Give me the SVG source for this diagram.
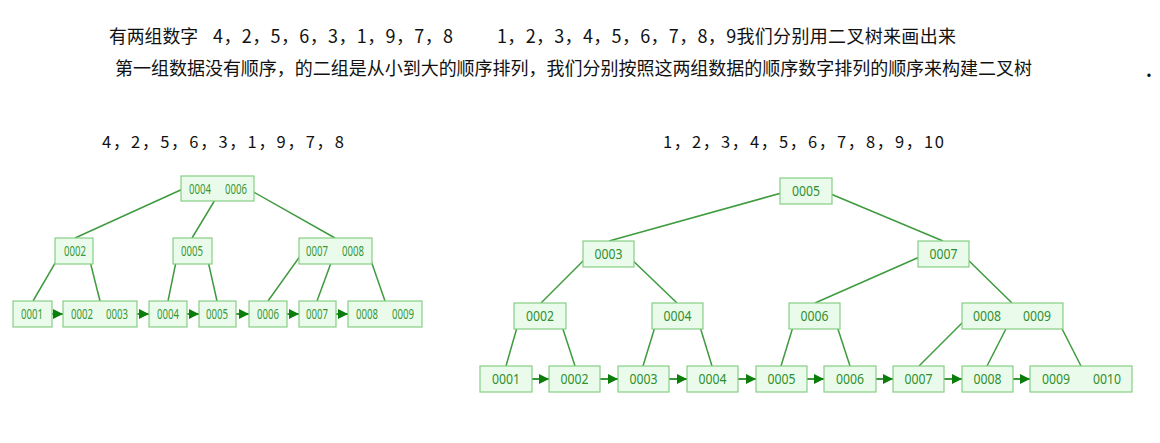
<svg xmlns="http://www.w3.org/2000/svg" width="1160" height="443" viewBox="0 0 1160 443">
<style>
.hd{font-family:"Noto Sans CJK SC","Noto Sans",sans-serif;font-size:18px;fill:#111}
.sub{font-family:"Noto Sans CJK SC","Noto Sans",sans-serif;font-size:16.5px;fill:#111}
.box{fill:#ebfbeb;stroke:#86cf86;stroke-width:1.2}
.tr{font-family:"Noto Sans",sans-serif;font-size:14px;fill:#2f8f2f;text-anchor:middle}
.tl{font-family:"Noto Sans",sans-serif;font-size:14px;fill:#389638;text-anchor:middle}
.ln{stroke:#3d9b3d;stroke-width:1.5;fill:none}
.lnl{stroke:#3f9a3f;stroke-width:1.5;fill:none}
.ar{stroke:#0b7d0b;stroke-width:1.6;fill:none;marker-end:url(#ah)}
</style>
<defs>
<marker id="ah" markerUnits="userSpaceOnUse" markerWidth="11" markerHeight="10" refX="10" refY="5" orient="auto">
<path d="M0,0 L10,5 L0,10 Z" fill="#0b7d0b"/>
</marker>
</defs>
<rect width="1160" height="443" fill="#fff"/>
<g id="header">
<text class="hd" x="109" y="43" textLength="89" lengthAdjust="spacingAndGlyphs">有两组数字</text>
<text class="hd" x="213" y="43" textLength="240" lengthAdjust="spacing">4，2，5，6，3，1，9，7，8</text>
<text class="hd" x="497" y="43" textLength="459" lengthAdjust="spacing">1，2，3，4，5，6，7，8，9我们分别用二叉树来画出来</text>
<text class="hd" x="115" y="75" textLength="917" lengthAdjust="spacing">第一组数据没有顺序，的二组是从小到大的顺序排列，我们分别按照这两组数据的顺序数字排列的顺序来构建二叉树</text>
<text class="hd" x="1146" y="77" font-weight="bold">.</text>
<text class="sub" x="102" y="148" textLength="242" lengthAdjust="spacing">4，2，5，6，3，1，9，7，8</text>
<text class="sub" x="663" y="148" textLength="281" lengthAdjust="spacing">1，2，3，4，5，6，7，8，9，10</text>
</g>
<g id="connectors">
<!-- left tree -->
<path class="lnl" d="M185,188 L75,238"/>
<path class="lnl" d="M221,190 L192,238"/>
<path class="lnl" d="M250,190 L335,238"/>
<path class="lnl" d="M61,253 L33,301"/>
<path class="lnl" d="M88,253 L100,301"/>
<path class="lnl" d="M178,252 L168,301"/>
<path class="lnl" d="M206,252 L217,301"/>
<path class="lnl" d="M303,252 L268,301"/>
<path class="lnl" d="M335,252 L317,301"/>
<path class="lnl" d="M368,252 L385,301"/>
<path class="ar" d="M46,314 L63,314"/>
<path class="ar" d="M132,314 L149,314"/>
<path class="ar" d="M181,314 L199,314"/>
<path class="ar" d="M231,314 L249,314"/>
<path class="ar" d="M281,314 L299,314"/>
<path class="ar" d="M332,314 L348,314"/>
<!-- right tree -->
<path class="ln" d="M785,192 L609,241"/>
<path class="ln" d="M826,192 L943,241"/>
<path class="ln" d="M589,255 L541,303"/>
<path class="ln" d="M627,255 L677,303"/>
<path class="ln" d="M924,255 L815,303"/>
<path class="ln" d="M963,255 L1012,303"/>
<path class="ln" d="M520,317 L506,366"/>
<path class="ln" d="M559,317 L575,366"/>
<path class="ln" d="M658,317 L643,366"/>
<path class="ln" d="M697,317 L712,366"/>
<path class="ln" d="M796,317 L781,366"/>
<path class="ln" d="M834,317 L850,366"/>
<path class="ln" d="M968,317 L919,366"/>
<path class="ln" d="M1012,317 L987,366"/>
<path class="ln" d="M1056,317 L1081,366"/>
<path class="ar" d="M525,379 L549,379"/>
<path class="ar" d="M594,379 L618,379"/>
<path class="ar" d="M663,379 L687,379"/>
<path class="ar" d="M732,379 L756,379"/>
<path class="ar" d="M801,379 L824,379"/>
<path class="ar" d="M869,379 L893,379"/>
<path class="ar" d="M938,379 L962,379"/>
<path class="ar" d="M1006,379 L1030,379"/>
</g>
<!-- left tree nodes -->
<g id="L-root"><rect class="box" x="181" y="176" width="73" height="25"/><text class="tl" x="200" y="193.5" textLength="22" lengthAdjust="spacingAndGlyphs">0004</text><text class="tl" x="236" y="193.5" textLength="22" lengthAdjust="spacingAndGlyphs">0006</text></g>
<g id="L-n2"><rect class="box" x="55" y="238" width="38" height="26"/><text class="tl" x="75" y="256" textLength="22" lengthAdjust="spacingAndGlyphs">0002</text></g>
<g id="L-n5"><rect class="box" x="173" y="238" width="39" height="26"/><text class="tl" x="192" y="256" textLength="22" lengthAdjust="spacingAndGlyphs">0005</text></g>
<g id="L-n78"><rect class="box" x="299" y="238" width="73" height="26"/><text class="tl" x="317" y="256" textLength="22" lengthAdjust="spacingAndGlyphs">0007</text><text class="tl" x="353" y="256" textLength="22" lengthAdjust="spacingAndGlyphs">0008</text></g>
<g id="L-l1"><rect class="box" x="13" y="301" width="39" height="26"/><text class="tl" x="32" y="319" textLength="22" lengthAdjust="spacingAndGlyphs">0001</text></g>
<g id="L-l23"><rect class="box" x="63" y="301" width="74" height="26"/><text class="tl" x="82" y="319" textLength="22" lengthAdjust="spacingAndGlyphs">0002</text><text class="tl" x="117" y="319" textLength="22" lengthAdjust="spacingAndGlyphs">0003</text></g>
<g id="L-l4"><rect class="box" x="149" y="301" width="38" height="26"/><text class="tl" x="168" y="319" textLength="22" lengthAdjust="spacingAndGlyphs">0004</text></g>
<g id="L-l5"><rect class="box" x="199" y="301" width="37" height="26"/><text class="tl" x="217" y="319" textLength="22" lengthAdjust="spacingAndGlyphs">0005</text></g>
<g id="L-l6"><rect class="box" x="249" y="301" width="38" height="26"/><text class="tl" x="268" y="319" textLength="22" lengthAdjust="spacingAndGlyphs">0006</text></g>
<g id="L-l7"><rect class="box" x="299" y="301" width="37" height="26"/><text class="tl" x="317" y="319" textLength="22" lengthAdjust="spacingAndGlyphs">0007</text></g>
<g id="L-l89"><rect class="box" x="348" y="301" width="74" height="26"/><text class="tl" x="367" y="319" textLength="22" lengthAdjust="spacingAndGlyphs">0008</text><text class="tl" x="403" y="319" textLength="22" lengthAdjust="spacingAndGlyphs">0009</text></g>
<!-- right tree nodes -->
<g id="R-root"><rect class="box" x="780" y="178" width="52" height="26"/><text class="tr" x="806" y="196" textLength="28" lengthAdjust="spacingAndGlyphs">0005</text></g>
<g id="R-n3"><rect class="box" x="583" y="241" width="51" height="26"/><text class="tr" x="608.5" y="259" textLength="28" lengthAdjust="spacingAndGlyphs">0003</text></g>
<g id="R-n7"><rect class="box" x="918" y="241" width="51" height="26"/><text class="tr" x="943.5" y="259" textLength="28" lengthAdjust="spacingAndGlyphs">0007</text></g>
<g id="R-n2"><rect class="box" x="514" y="303" width="52" height="26"/><text class="tr" x="540" y="321" textLength="28" lengthAdjust="spacingAndGlyphs">0002</text></g>
<g id="R-n4"><rect class="box" x="652" y="303" width="51" height="26"/><text class="tr" x="677.5" y="321" textLength="28" lengthAdjust="spacingAndGlyphs">0004</text></g>
<g id="R-n6"><rect class="box" x="789" y="303" width="51" height="26"/><text class="tr" x="814.5" y="321" textLength="28" lengthAdjust="spacingAndGlyphs">0006</text></g>
<g id="R-n89"><rect class="box" x="962" y="303" width="101" height="26"/><text class="tr" x="987" y="321" textLength="28" lengthAdjust="spacingAndGlyphs">0008</text><text class="tr" x="1037" y="321" textLength="28" lengthAdjust="spacingAndGlyphs">0009</text></g>
<g id="R-l1"><rect class="box" x="480" y="366" width="52" height="26"/><text class="tr" x="506" y="384" textLength="28" lengthAdjust="spacingAndGlyphs">0001</text></g>
<g id="R-l2"><rect class="box" x="549" y="366" width="51" height="26"/><text class="tr" x="574.5" y="384" textLength="28" lengthAdjust="spacingAndGlyphs">0002</text></g>
<g id="R-l3"><rect class="box" x="618" y="366" width="51" height="26"/><text class="tr" x="643.5" y="384" textLength="28" lengthAdjust="spacingAndGlyphs">0003</text></g>
<g id="R-l4"><rect class="box" x="687" y="366" width="51" height="26"/><text class="tr" x="712.5" y="384" textLength="28" lengthAdjust="spacingAndGlyphs">0004</text></g>
<g id="R-l5"><rect class="box" x="756" y="366" width="51" height="26"/><text class="tr" x="781.5" y="384" textLength="28" lengthAdjust="spacingAndGlyphs">0005</text></g>
<g id="R-l6"><rect class="box" x="824" y="366" width="52" height="26"/><text class="tr" x="850" y="384" textLength="28" lengthAdjust="spacingAndGlyphs">0006</text></g>
<g id="R-l7"><rect class="box" x="893" y="366" width="51" height="26"/><text class="tr" x="918.5" y="384" textLength="28" lengthAdjust="spacingAndGlyphs">0007</text></g>
<g id="R-l8"><rect class="box" x="962" y="366" width="51" height="26"/><text class="tr" x="987.5" y="384" textLength="28" lengthAdjust="spacingAndGlyphs">0008</text></g>
<g id="R-l910"><rect class="box" x="1030" y="366" width="102" height="26"/><text class="tr" x="1056" y="384" textLength="28" lengthAdjust="spacingAndGlyphs">0009</text><text class="tr" x="1107" y="384" textLength="28" lengthAdjust="spacingAndGlyphs">0010</text></g>
</svg>
